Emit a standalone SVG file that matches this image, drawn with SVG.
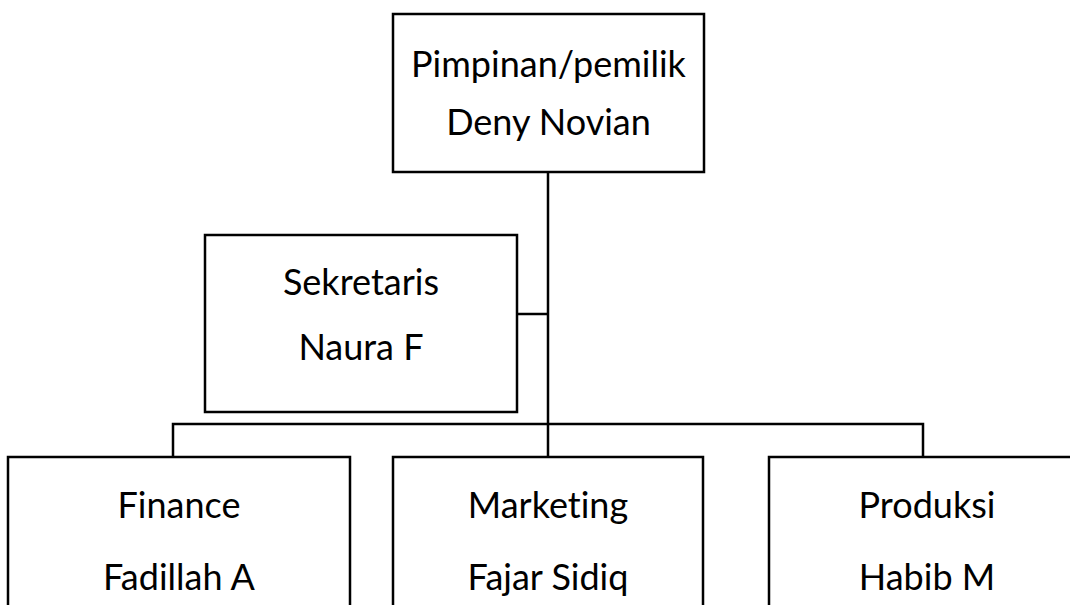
<svg xmlns="http://www.w3.org/2000/svg" width="1070" height="605" viewBox="0 0 1070 605">
<style>
.box{fill:#fff;stroke:#000;stroke-width:2.5}
.ln{fill:none;stroke:#000;stroke-width:2.5}
text{font-family:Lato,"Liberation Sans",sans-serif;font-size:36px;fill:#000;text-anchor:middle;font-variant-ligatures:none}
</style>
<rect width="1070" height="605" fill="#fff"/>
<g id="connectors">
<path class="ln" d="M548 173 V457"/>
<path class="ln" d="M517 314 H548"/>
<path class="ln" d="M173 457 V424 H923 V457"/>
</g>
<g id="pimpinan">
<rect class="box" x="393" y="14" width="311" height="158"/>
<text x="548.5" y="77">Pimpinan/pemilik</text>
<text x="548.5" y="135">Deny Novian</text>
</g>
<g id="sekretaris">
<rect class="box" x="205" y="235" width="312" height="177"/>
<text x="361" y="295">Sekretaris</text>
<text x="361" y="360">Naura F</text>
</g>
<g id="finance">
<rect class="box" x="8" y="457" width="342" height="160"/>
<text x="179" y="518">Finance</text>
<text x="179" y="590">Fadillah A</text>
</g>
<g id="marketing">
<rect class="box" x="393" y="457" width="310" height="160"/>
<text x="548" y="518">Marketing</text>
<text x="548" y="590">Fajar Sidiq</text>
</g>
<g id="produksi">
<rect class="box" x="769" y="457" width="316" height="160"/>
<text x="927" y="518">Produksi</text>
<text x="927" y="590">Habib M</text>
</g>
</svg>
